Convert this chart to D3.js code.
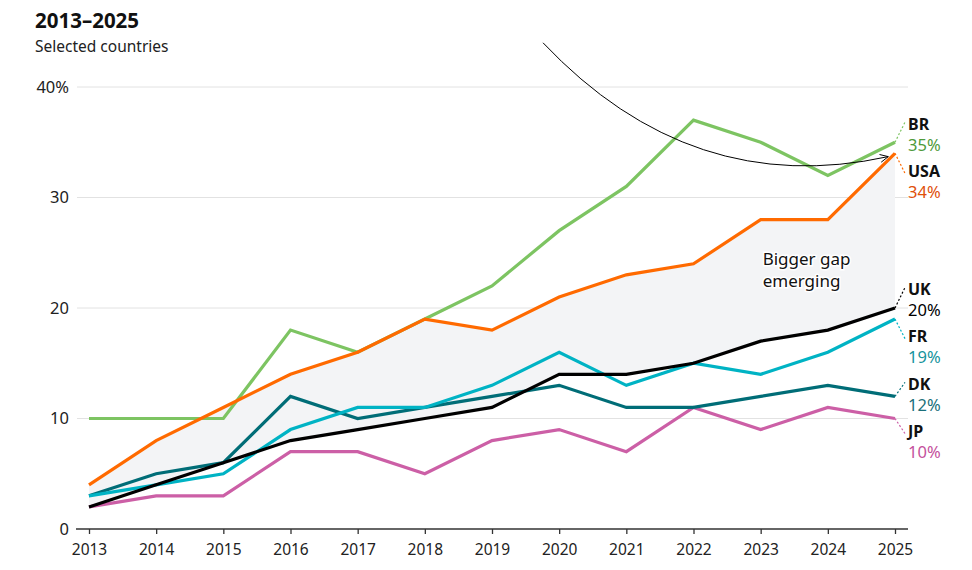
<!DOCTYPE html>
<html>
<head>
<meta charset="utf-8">
<script src="https://cdn.jsdelivr.net/npm/d3@7"></script>
<style>
  body { margin: 0; background: #fff; }
  svg { font-family: "Noto Sans", "Open Sans", sans-serif; display: block; }
</style>
</head>
<body>
<svg id="chart"></svg>
<script>
// data
const years = [2013, 2014, 2015, 2016, 2017, 2018, 2019, 2020, 2021, 2022, 2023, 2024, 2025];
const yTicks = [0, 10, 20, 30, 40];

const brValues  = [10, 10, 10, 18, 16, 19, 22, 27, 31, 37, 35, 32, 35];
const usaValues = [4, 8, 11, 14, 16, 19, 18, 21, 23, 24, 28, 28, 34];
const ukValues  = [2, 4, 6, 8, 9, 10, 11, 14, 14, 15, 17, 18, 20];
const frValues  = [3, 4, 5, 9, 11, 11, 13, 16, 13, 15, 14, 16, 19];
const dkValues  = [3, 5, 6, 12, 10, 11, 12, 13, 11, 11, 12, 13, 12];
const jpValues  = [2, 3, 3, 7, 7, 5, 8, 9, 7, 11, 9, 11, 10];

const seriesNames = ["BR", "USA", "UK", "FR", "DK", "JP"];
const seriesValues = [brValues, usaValues, ukValues, frValues, dkValues, jpValues];
const lineColors = ["#7dc462", "#ff6a00", "#000000", "#00b3c4", "#006d77", "#cc5fa6"];
const textColors = ["#4f9a3a", "#e0500a", "#000000", "#16939c", "#1a6f7a", "#c4509c"];

const W = 972, H = 570;
const margin = { top: 87, right: 64, bottom: 41, left: 89 };

const svg = d3.select("#chart").attr("width", W).attr("height", H);

const x = d3.scaleLinear()
  .domain([2013, 2025])
  .range([margin.left, W - margin.right - 13]);   // 2025 at ~895

const y = d3.scaleLinear()
  .domain([0, 40])
  .range([H - margin.bottom, margin.top]);

// title
svg.append("text")
  .attr("x", 35).attr("y", 28)
  .attr("font-size", 20.5).attr("font-weight", 700)
  .attr("fill", "#111")
  .text("2013–2025");
svg.append("text")
  .attr("x", 35).attr("y", 52)
  .attr("font-size", 15.5)
  .attr("fill", "#222")
  .text("Selected countries");

// grid lines
svg.append("g")
  .selectAll("line")
  .data(yTicks.filter(d => d > 0))
  .join("line")
  .attr("x1", 77).attr("x2", 908)
  .attr("y1", d => y(d)).attr("y2", d => y(d))
  .attr("stroke", "#e2e2e2").attr("stroke-width", 1);

// y labels
svg.append("g")
  .selectAll("text")
  .data(yTicks)
  .join("text")
  .attr("x", 69)
  .attr("y", d => y(d))
  .attr("dy", "0.35em")
  .attr("text-anchor", "end")
  .attr("font-size", 16.5)
  .attr("fill", "#222")
  .text(d => d === 40 ? "40%" : d);

// band between UK and USA
const band = d3.area()
  .x((d, i) => x(years[i]))
  .y0((d, i) => y(ukValues[i]))
  .y1((d, i) => y(usaValues[i]));
svg.append("path")
  .datum(years)
  .attr("d", band)
  .attr("fill", "#f3f4f6");

// x axis
const xAxis = d3.axisBottom(x)
  .tickValues(years)
  .tickFormat(d3.format("d"))
  .tickSize(5)
  .tickSizeOuter(0);
const gx = svg.append("g")
  .attr("transform", `translate(0, ${y(0)})`)
  .call(xAxis);
gx.select(".domain").remove();
gx.append("line")
  .attr("x1", 76).attr("x2", 908)
  .attr("stroke", "#333").attr("stroke-width", 1.3);
gx.selectAll(".tick line").attr("stroke", "#333").attr("stroke-width", 1.3);
gx.selectAll(".tick text")
  .attr("font-size", 15.5)
  .attr("font-family", "Noto Sans, sans-serif")
  .attr("fill", "#222")
  .attr("dy", "1.15em");

// lines (draw in back-to-front order)
const line = d3.line()
  .x((d, i) => x(years[i]))
  .y(d => y(d));

const drawOrder = [5, 4, 3, 0, 1, 2];
svg.append("g")
  .selectAll("path")
  .data(drawOrder)
  .join("path")
  .attr("d", k => line(seriesValues[k]))
  .attr("fill", "none")
  .attr("stroke", k => lineColors[k])
  .attr("stroke-width", 3.2)
  .attr("stroke-linejoin", "miter");

// end labels with simple dodge
const labelGap = 47.5;
const labels = seriesNames.map((name, k) => {
  const v = seriesValues[k][years.length - 1];
  return { name, k, v, yEnd: y(v), yl: y(v) };
});
labels.sort((a, b) => a.yEnd - b.yEnd);
for (let it = 0; it < 200; it++) {
  for (let i = 1; i < labels.length; i++) {
    const a = labels[i - 1], b = labels[i];
    const overlap = labelGap - (b.yl - a.yl);
    if (overlap > 0) {
      a.yl -= overlap / 2;
      b.yl += overlap / 2;
    }
  }
  // pull gently back toward the line end
  labels.forEach(l => { l.yl += (l.yEnd - l.yl) * 0.01; });
}

const xEnd = x(2025);
const gl = svg.append("g");
labels.forEach(l => {
  gl.append("line")
    .attr("x1", xEnd).attr("y1", l.yEnd)
    .attr("x2", xEnd + 10).attr("y2", l.yl + (l.yl < l.yEnd ? -2 : 2))
    .attr("stroke", lineColors[l.k])
    .attr("stroke-width", 1.2)
    .attr("stroke-dasharray", "2,2");
  gl.append("text")
    .attr("x", 908).attr("y", l.yl)
    .attr("dy", "0.35em")
    .attr("font-size", 16).attr("font-weight", 700)
    .attr("fill", "#111")
    .text(l.name);
  gl.append("text")
    .attr("x", 908).attr("y", l.yl + 21)
    .attr("dy", "0.35em")
    .attr("font-size", 16.5)
    .attr("fill", textColors[l.k])
    .text(l.v + "%");
});

// annotation
const note = svg.append("g");
note.append("text")
  .attr("x", x(2023.03))
  .attr("y", y(23.9))
  .attr("font-size", 17)
  .attr("fill", "#111")
  .attr("stroke", "#fff").attr("stroke-width", 3)
  .attr("paint-order", "stroke")
  .selectAll("tspan")
  .data(["Bigger gap", "emerging"])
  .join("tspan")
  .attr("x", x(2023.03))
  .attr("dy", (d, i) => i === 0 ? 0 : "1.3em")
  .text(d => d);

const p0 = [x(2019.76), y(44)];
const c0 = [x(2021.97), y(29.8)];
const p1 = [x(2024.9), y(33.7)];
const path = d3.path();
path.moveTo(p0[0], p0[1]);
path.quadraticCurveTo(c0[0], c0[1], p1[0], p1[1]);
note.append("path")
  .attr("d", path.toString())
  .attr("fill", "none")
  .attr("stroke", "#000").attr("stroke-width", 1);

// arrow head
const ang = Math.atan2(p1[1] - c0[1], p1[0] - c0[0]);
const ah = 9, spread = 0.45;
note.append("path")
  .attr("d", `M${p1[0] - ah * Math.cos(ang - spread)},${p1[1] - ah * Math.sin(ang - spread)}` +
             `L${p1[0]},${p1[1]}` +
             `L${p1[0] - ah * Math.cos(ang + spread)},${p1[1] - ah * Math.sin(ang + spread)}`)
  .attr("fill", "none")
  .attr("stroke", "#000").attr("stroke-width", 1);
</script>
</body>
</html>
